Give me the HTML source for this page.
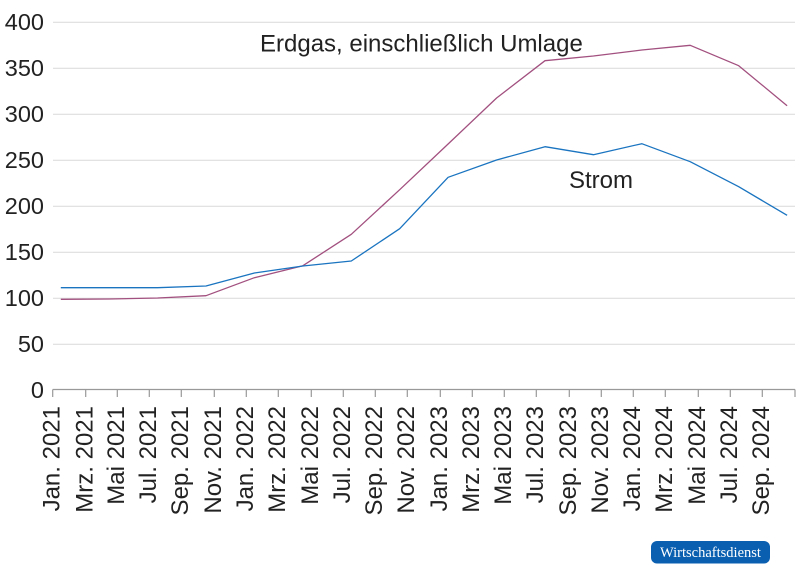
<!DOCTYPE html>
<html>
<head>
<meta charset="utf-8">
<style>
html,body{margin:0;padding:0;background:#fff;}
svg{display:block;}
text{font-family:"Liberation Sans",Arial,sans-serif;fill:#222;}
</style>
</head>
<body>
<svg width="800" height="588" viewBox="0 0 800 588" xmlns="http://www.w3.org/2000/svg">
<g stroke="#d9d9d9" stroke-width="1">
<line x1="53" y1="22.3" x2="795" y2="22.3"/>
<line x1="53" y1="68.3" x2="795" y2="68.3"/>
<line x1="53" y1="114.3" x2="795" y2="114.3"/>
<line x1="53" y1="160.3" x2="795" y2="160.3"/>
<line x1="53" y1="206.3" x2="795" y2="206.3"/>
<line x1="53" y1="252.3" x2="795" y2="252.3"/>
<line x1="53" y1="298.3" x2="795" y2="298.3"/>
<line x1="53" y1="344.3" x2="795" y2="344.3"/>
</g>
<g font-size="23.5" text-anchor="end">
<text x="44" y="30">400</text>
<text x="44" y="76">350</text>
<text x="44" y="122">300</text>
<text x="44" y="168">250</text>
<text x="44" y="214">200</text>
<text x="44" y="260">150</text>
<text x="44" y="306">100</text>
<text x="44" y="352">50</text>
<text x="44" y="398">0</text>
</g>
<g stroke="#999" stroke-width="1.2">
<line x1="52.7" y1="389.5" x2="795" y2="389.5"/>
<line x1="52.7" y1="389.5" x2="52.7" y2="397"/>
<line x1="85.7" y1="389.5" x2="85.7" y2="397"/>
<line x1="117.3" y1="389.5" x2="117.3" y2="397"/>
<line x1="149.3" y1="389.5" x2="149.3" y2="397"/>
<line x1="181.3" y1="389.5" x2="181.3" y2="397"/>
<line x1="214.3" y1="389.5" x2="214.3" y2="397"/>
<line x1="246.3" y1="389.5" x2="246.3" y2="397"/>
<line x1="278.3" y1="389.5" x2="278.3" y2="397"/>
<line x1="311.3" y1="389.5" x2="311.3" y2="397"/>
<line x1="343.3" y1="389.5" x2="343.3" y2="397"/>
<line x1="375.3" y1="389.5" x2="375.3" y2="397"/>
<line x1="407.3" y1="389.5" x2="407.3" y2="397"/>
<line x1="440.3" y1="389.5" x2="440.3" y2="397"/>
<line x1="472.3" y1="389.5" x2="472.3" y2="397"/>
<line x1="504.3" y1="389.5" x2="504.3" y2="397"/>
<line x1="536.3" y1="389.5" x2="536.3" y2="397"/>
<line x1="569.3" y1="389.5" x2="569.3" y2="397"/>
<line x1="601.3" y1="389.5" x2="601.3" y2="397"/>
<line x1="633.3" y1="389.5" x2="633.3" y2="397"/>
<line x1="665.3" y1="389.5" x2="665.3" y2="397"/>
<line x1="698.3" y1="389.5" x2="698.3" y2="397"/>
<line x1="730.3" y1="389.5" x2="730.3" y2="397"/>
<line x1="762.3" y1="389.5" x2="762.3" y2="397"/>
<line x1="795" y1="389.5" x2="795" y2="397"/>
</g>
<g font-size="24" text-anchor="end">
<text transform="translate(59.5,406) rotate(-90)">Jan. 2021</text>
<text transform="translate(92.5,406) rotate(-90)">Mrz. 2021</text>
<text transform="translate(124.1,406) rotate(-90)">Mai 2021</text>
<text transform="translate(156.1,406) rotate(-90)">Jul. 2021</text>
<text transform="translate(188.1,406) rotate(-90)">Sep. 2021</text>
<text transform="translate(221.1,406) rotate(-90)">Nov. 2021</text>
<text transform="translate(253.1,406) rotate(-90)">Jan. 2022</text>
<text transform="translate(285.1,406) rotate(-90)">Mrz. 2022</text>
<text transform="translate(318.1,406) rotate(-90)">Mai 2022</text>
<text transform="translate(350.1,406) rotate(-90)">Jul. 2022</text>
<text transform="translate(382.1,406) rotate(-90)">Sep. 2022</text>
<text transform="translate(414.1,406) rotate(-90)">Nov. 2022</text>
<text transform="translate(447.1,406) rotate(-90)">Jan. 2023</text>
<text transform="translate(479.1,406) rotate(-90)">Mrz. 2023</text>
<text transform="translate(511.1,406) rotate(-90)">Mai 2023</text>
<text transform="translate(543.1,406) rotate(-90)">Jul. 2023</text>
<text transform="translate(576.1,406) rotate(-90)">Sep. 2023</text>
<text transform="translate(608.1,406) rotate(-90)">Nov. 2023</text>
<text transform="translate(640.1,406) rotate(-90)">Jan. 2024</text>
<text transform="translate(672.1,406) rotate(-90)">Mrz. 2024</text>
<text transform="translate(705.1,406) rotate(-90)">Mai 2024</text>
<text transform="translate(737.1,406) rotate(-90)">Jul. 2024</text>
<text transform="translate(769.1,406) rotate(-90)">Sep. 2024</text>
</g>
<polyline fill="none" stroke="#a2507f" stroke-width="1.3" stroke-linejoin="round"
points="60.8,299.3 109.2,299 157.6,298 206,295.7 254.4,277.7 302.9,265.7 351.3,234.3 399.7,189.7 448.1,144 496.6,98 545,60.7 593.4,56 641.8,50 690.2,45.3 738.7,65.7 787.1,105.7"/>
<polyline fill="none" stroke="#1a74c0" stroke-width="1.3" stroke-linejoin="round"
points="60.8,287.7 109.2,287.7 157.6,287.7 206,286 254.4,273 302.9,266 351.3,261 399.7,228.7 448.1,177.3 496.6,160 545,146.7 593.4,154.7 641.8,143.7 690.2,161.7 738.7,186.7 787.1,215.3"/>
<text x="260" y="51.5" font-size="24">Erdgas, einschließlich Umlage</text>
<text x="569" y="188" font-size="24">Strom</text>
<rect x="651" y="541" width="119" height="22.5" rx="6" ry="6" fill="#0a5fb0"/>
<text x="710.5" y="557" font-size="14.5" text-anchor="middle" style="font-family:'Liberation Serif',serif;fill:#fff;">Wirtschaftsdienst</text>
</svg>
</body>
</html>
